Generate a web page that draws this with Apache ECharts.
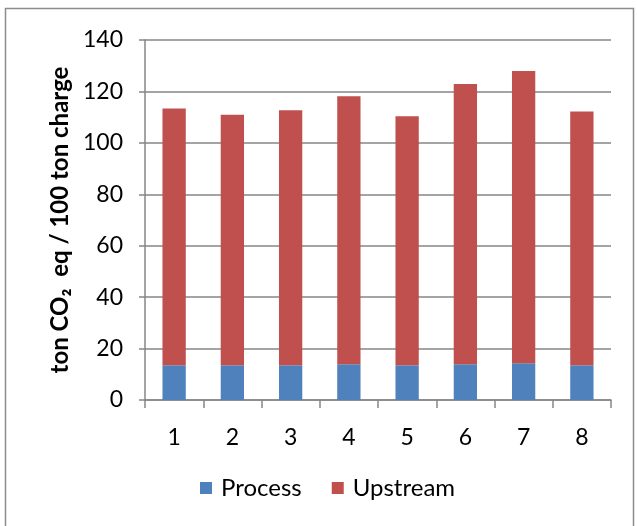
<!DOCTYPE html>
<html>
<head>
<meta charset="utf-8">
<script src="https://cdn.jsdelivr.net/npm/echarts@6/dist/echarts.min.js"></script>
<style>
html,body{margin:0;padding:0;background:#fff;}
#chart{width:637px;height:526px;}
</style>
</head>
<body>
<div id="chart"></div>
<script>
var categories = ['1','2','3','4','5','6','7','8'];
var processValues = [13.5, 13.5, 13.5, 13.9, 13.5, 13.9, 14.3, 13.5];
var upstreamValues = [99.9, 97.4, 99.2, 104.2, 96.8, 109.0, 113.6, 98.7];
var yTicks = [0, 20, 40, 60, 80, 100, 120, 140];

var font = 'Lato, "Open Sans", "Liberation Sans", sans-serif';
var chart = echarts.init(document.getElementById('chart'));
chart.setOption({
  animation: false,
  backgroundColor: '#fff',
  graphic: [{
    type: 'rect',
    shape: {x: 5.5, y: 8.5, width: 628, height: 530},
    style: {fill: 'none', stroke: '#8c8c8c', lineWidth: 1.5},
    silent: true
  }],
  grid: {left: 145, right: 26, top: 40, bottom: 126},
  legend: {
    data: ['Process', 'Upstream'],
    bottom: 21,
    left: 195,
    itemWidth: 12,
    itemHeight: 12,
    itemGap: 30,
    icon: 'rect',
    textStyle: {fontFamily: font, fontSize: 24, color: '#000', padding: [0, 0, 0, 4]}
  },
  xAxis: {
    type: 'category',
    data: categories,
    axisLine: {lineStyle: {color: '#868686', width: 1.5}},
    axisTick: {show: true, length: 8, lineStyle: {color: '#868686', width: 1.5}},
    axisLabel: {fontFamily: font, fontSize: 23, color: '#000', margin: 26}
  },
  yAxis: {
    type: 'value',
    min: yTicks[0],
    max: yTicks[yTicks.length - 1],
    interval: 20,
    name: 'ton CO\u2082  eq / 100 ton charge',
    nameLocation: 'middle',
    nameGap: 72,
    nameTextStyle: {fontFamily: font, fontSize: 24, fontWeight: 'bold', color: '#000'},
    axisLine: {show: true, lineStyle: {color: '#868686', width: 1.5}},
    axisTick: {show: true, length: 6, lineStyle: {color: '#868686', width: 1.5}},
    axisLabel: {fontFamily: font, fontSize: 23, color: '#000', margin: 22},
    splitLine: {show: true, lineStyle: {color: '#868686', width: 1.5}}
  },
  series: [{
    name: 'Process',
    type: 'bar',
    stack: 'total',
    barWidth: '40%',
    data: processValues,
    itemStyle: {color: '#4F81BD'}
  }, {
    name: 'Upstream',
    type: 'bar',
    stack: 'total',
    barWidth: '40%',
    data: upstreamValues,
    itemStyle: {color: '#C0504D'}
  }]
});
</script>
</body>
</html>
